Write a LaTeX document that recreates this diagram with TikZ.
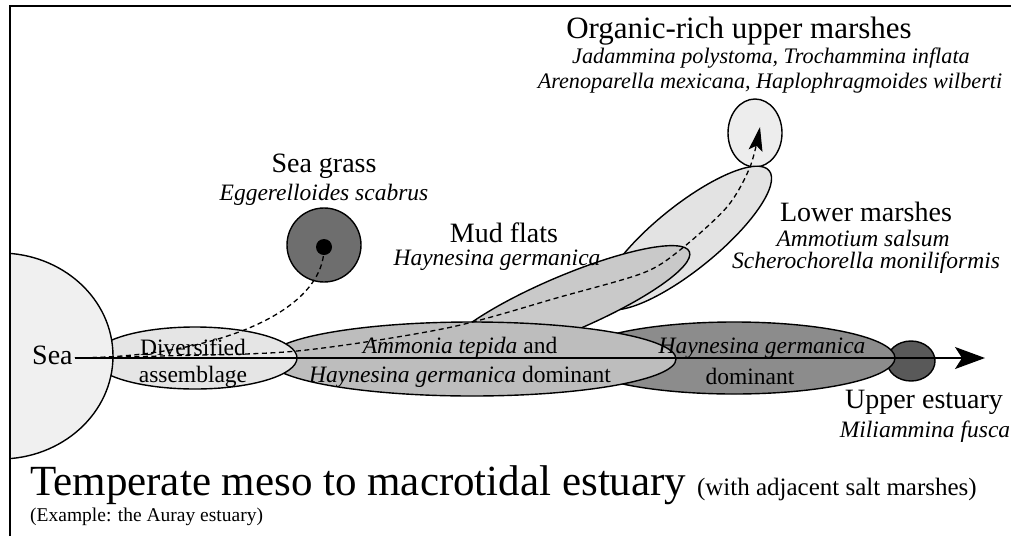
\documentclass[tikz,border=0pt]{standalone}
\usepackage{fontspec}
\setmainfont{Liberation Serif}
\usetikzlibrary{arrows.meta,shapes.geometric}
\definecolor{cSea}{gray}{0.94}
\definecolor{cDiv}{gray}{0.90}
\definecolor{cAmm}{gray}{0.74}
\definecolor{cHay}{gray}{0.55}
\definecolor{cUp}{gray}{0.35}
\definecolor{cMud}{gray}{0.79}
\definecolor{cLow}{gray}{0.89}
\definecolor{cOrg}{gray}{0.93}
\definecolor{cGrass}{gray}{0.43}
\tikzset{
  zone/.style={ellipse, draw, line width=1.4pt, inner sep=0pt, outer sep=0pt},
  head/.style={font=\fontsize{28}{30}\selectfont, anchor=base, inner sep=0pt},
  spec/.style={font=\fontsize{23.5}{26}\selectfont\itshape, anchor=base, inner sep=0pt},
  smallspec/.style={font=\fontsize{22.2}{24}\selectfont\itshape, anchor=base, inner sep=0pt},
  lab/.style={font=\fontsize{23.5}{26}\selectfont, anchor=base, inner sep=0pt},
  dashpath/.style={dash pattern=on 5pt off 3.5pt, line width=1.3pt},
  framepen/.style={line width=2.8pt},
}
\begin{document}
\begin{tikzpicture}[x=1pt,y=1pt]
\useasboundingbox (0,0) rectangle (1011,-536);
% zones, back to front
\node[zone, fill=cOrg, minimum width=54pt, minimum height=68pt] (org) at (755,-133) {};
\node[zone, fill=cLow, minimum width=214pt, minimum height=64pt, rotate=39] (low) at (686,-238) {};
\node[zone, fill=cMud, minimum width=268pt, minimum height=56pt, rotate=23] (mud) at (566,-304) {};
\node[zone, fill=cUp, minimum width=48pt, minimum height=40pt] (upper) at (911,-361) {};
\node[zone, fill=cHay, minimum width=322pt, minimum height=72pt] (hay) at (734,-358) {};
\node[zone, fill=cAmm, minimum width=408pt, minimum height=74pt] (amm) at (472,-359) {};
\node[zone, fill=cDiv, minimum width=204pt, minimum height=62pt] (div) at (195,-358) {};
\begin{scope}
  \clip (10,0) rectangle (1011,-536);
  \node[zone, fill=cSea, minimum width=226pt, minimum height=206pt] (seazone) at (0,-356) {};
\end{scope}
% sea grass
\node[circle, draw, line width=1.4pt, fill=cGrass, minimum size=74pt, inner sep=0pt] (grass) at (324,-245) {};
\node[circle, fill=black, minimum size=16pt, inner sep=0pt] (grassDot) at (324,-247) {};
% frame
\draw[framepen] (10,-536) -- (10,-6) -- (1011,-6);
% labels
\node[head, anchor=base west] (sea) at (32,-364) {Sea};
\coordinate (seaE) at (75,-358);
\node[lab] (divA) at (193,-355) {Diversified};
\node[lab] (divB) at (193,-382) {assemblage};
\node[lab] (ammA) at (460,-353) {\itshape Ammonia tepida\upshape\ and};
\node[lab] (ammB) at (460,-382) {\itshape Haynesina germanica\upshape\ dominant};
\node[spec] (hayA) at (762,-353) {Haynesina germanica};
\node[lab] (hayB) at (750,-384) {dominant};
\node[head] (upA) at (924,-408) {Upper estuary};
\node[spec] (upB) at (925,-437) {Miliammina fusca};
\node[head] (grassA) at (324,-172) {Sea grass};
\node[spec] (grassB) at (324,-200) {Eggerelloides scabrus};
\node[head] (mudA) at (504,-242) {Mud flats};
\node[spec] (mudB) at (497,-265) {Haynesina germanica};
\node[head] (lowA) at (866,-221) {Lower marshes};
\node[spec] (lowB) at (863,-246) {Ammotium salsum};
\node[spec] (lowC) at (866,-268) {Scherochorella moniliformis};
\node[head, font=\fontsize{31}{33}\selectfont] (orgA) at (739,-38) {Organic-rich upper marshes};
\node[smallspec] (orgB) at (771,-63) {Jadammina polystoma, Trochammina inflata};
\node[smallspec] (orgC) at (770,-88) {Arenoparella mexicana, Haplophragmoides wilberti};
\node[anchor=base west, inner sep=0pt] (title) at (30,-495) {\fontsize{43}{45}\selectfont Temperate meso to macrotidal estuary \fontsize{25}{27}\selectfont(with adjacent salt marshes)};
\node[anchor=base west, inner sep=0pt, font=\fontsize{19.5}{21}\selectfont] (example) at (30,-521) {(Example: the Auray estuary)};
% connectors
\coordinate (axisEnd) at (985,-358);
\draw[line width=1.4pt, -{Stealth[length=30pt,width=22pt,inset=7pt]}] (seaE) -- (axisEnd);
\draw[dashpath] (seaE) .. controls (220,-357) and (325,-310) .. (grassDot.center);
\coordinate (orgTip) at (760,-127);
\draw[dashpath, -{Stealth[length=24pt,width=14pt,inset=5pt]}] plot[smooth] coordinates {(seaE) (160,-356) (297,-351) (447,-328) (560,-297) (643,-273) (680,-250) (727,-207) (750,-167) (orgTip)};
\end{tikzpicture}
\end{document}
